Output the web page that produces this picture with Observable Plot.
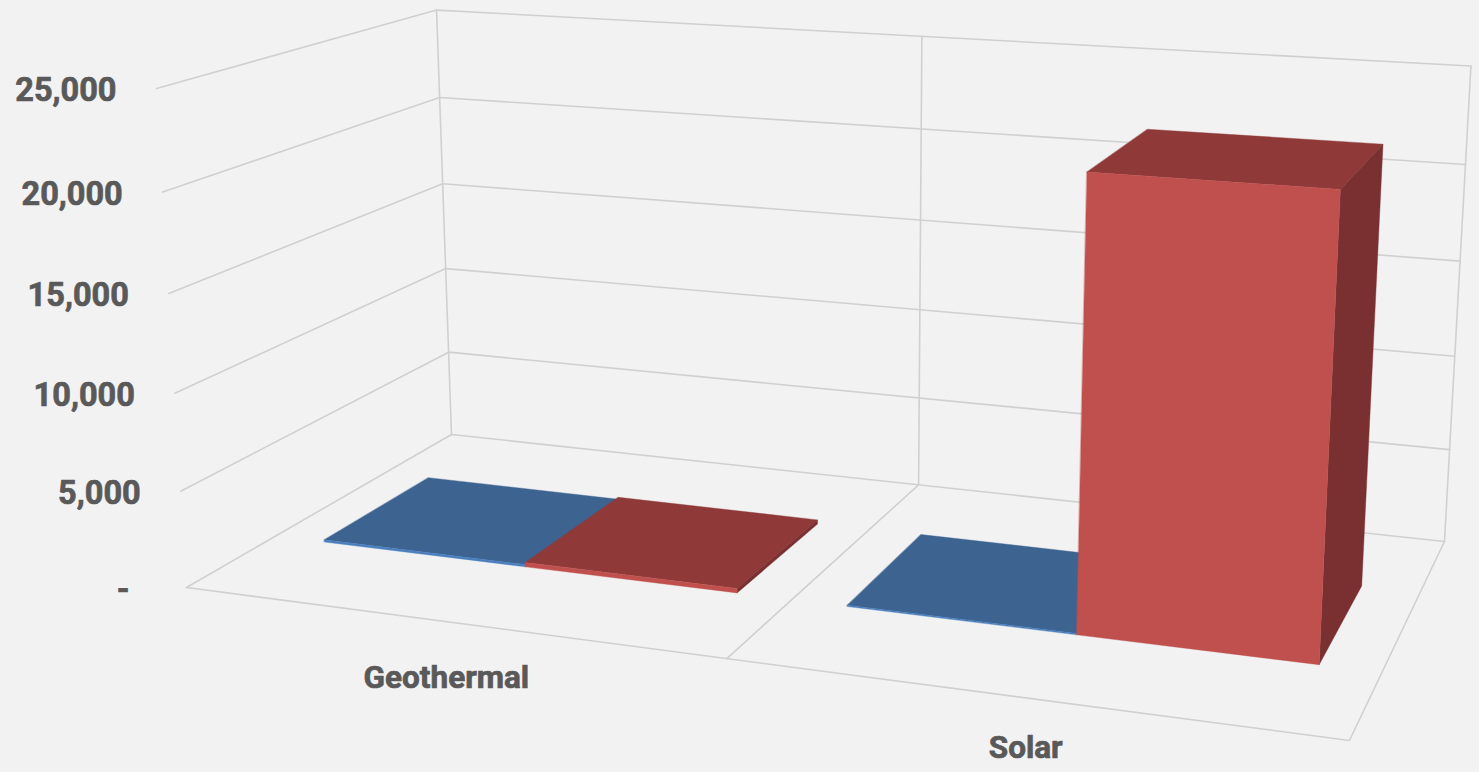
<!DOCTYPE html>
<html>
<head>
<meta charset="utf-8">
<script src="https://cdn.jsdelivr.net/npm/d3@7"></script>
<script src="https://cdn.jsdelivr.net/npm/@observablehq/plot@0.6"></script>
<style>
html,body{margin:0;padding:0;background:#F2F2F2;overflow:hidden}
svg{display:block}
</style>
</head>
<body>
<div id="chart"></div>
<script>
// ---- data ----
const categories = ["Geothermal", "Solar"];
const seriesNames = ["Series 1", "Series 2"];
const series1Values = [120, 70];
const series2Values = [230, 22330];
const valueTicks = [0, 5000, 10000, 15000, 20000, 25000];
const tickLabels = ["-", "5,000", "10,000", "15,000", "20,000", "25,000"];
const seriesTop = ["#3D6390", "#8F3A39"];
const seriesFront = ["#4A7FBE", "#C0504D"];
const seriesSide = ["#2F4D70", "#7A3030"];

// ---- perspective of the 3-D chart box: category u, depth d, value v (all 0..1) ----
const valueMax = 25000;
function project(u, d, value) {
  const v = value / valueMax;
  const w = 1 - 0.1323 * u + 0.18385 * d - 0.044 * v;
  return [
    (186 + 984.5 * u + 347.9 * d - 36.86 * v) / w,
    (587 + 55.1 * u - 73.2 * d - 502.87 * v) / w
  ];
}

// ---- box grid lines ----
const gridLines = [];
function addLine(id, pts) {
  for (const p of pts) {
    const [x, y] = project(...p);
    gridLines.push({id, x, y});
  }
}
for (const t of valueTicks) {
  addLine("left" + t, [[0, 0, t], [0, 1, t], [1, 1, t]]);
}
addLine("front", [[0, 0, 0], [1, 0, 0], [1, 1, 0]]);
addLine("cross", [[0.5, 0, 0], [0.5, 1, 0], [0.5, 1, valueMax]]);
addLine("backL", [[0, 1, 0], [0, 1, valueMax]]);
addLine("backR", [[1, 1, 0], [1, 1, valueMax]]);

// ---- bar faces ----
const catWidth = 1 / categories.length;
const barWidth = 0.2, depthFront = 0.3, depthBack = 0.705;
const faces = [];
function addFace(id, color, pts) {
  for (const p of pts) {
    const [x, y] = project(...p);
    faces.push({id, color, x, y});
  }
}
categories.forEach((cat, c) => {
  const center = catWidth * (c + 0.5);
  [series1Values, series2Values].forEach((vals, s) => {
    const v = vals[c];
    const x0 = center + (s - 1) * barWidth, x1 = x0 + barWidth;
    const d0 = depthFront, d1 = depthBack;
    const key = cat + seriesNames[s];
    addFace(key + "top", seriesTop[s], [[x0,d0,v],[x1,d0,v],[x1,d1,v],[x0,d1,v]]);
    addFace(key + "side", seriesSide[s], [[x1,d0,0],[x1,d1,0],[x1,d1,v],[x1,d0,v]]);
    addFace(key + "front", seriesFront[s], [[x0,d0,0],[x1,d0,0],[x1,d0,v],[x0,d0,v]]);
  });
});

// ---- labels ----
const tickRows = valueTicks.map((t, i) => {
  const [x, y] = project(0, 0, t);
  return {label: tickLabels[i], x: x - (t === 0 ? 57 : 40), y: y + 2.5};
});
const categoryOffset = [56, 50];
const categoryRows = categories.map((label, c) => {
  const [x, y] = project(catWidth * (c + 0.5), 0, 0);
  return {label, x: x - 1, y: y + categoryOffset[c]};
});

const fontFamily = "Roboto, sans-serif";
const textStyle = {fontFamily, fontWeight: 700, fill: "#595959", stroke: "#595959", strokeWidth: 0.7};
const chart = Plot.plot({
  width: 1479,
  height: 772,
  margin: 0,
  x: {type: "identity", axis: null},
  y: {type: "identity", axis: null},
  style: {background: "#F2F2F2"},
  marks: [
    Plot.line(gridLines, {x: "x", y: "y", z: "id", stroke: "#D0D0D0", strokeWidth: 1.6, curve: "linear"}),
    Plot.line(faces, {x: "x", y: "y", z: "id", fill: "color", stroke: "color", strokeWidth: 0.4, curve: "linear-closed"}),
    Plot.text(tickRows, {x: "x", y: "y", text: "label", textAnchor: "end", fontSize: 32.5, ...textStyle}),
    Plot.text(categoryRows, {x: "x", y: "y", text: "label", textAnchor: "middle", fontSize: 31.5, ...textStyle})
  ]
});
document.getElementById("chart").append(chart);
</script>
</body>
</html>
